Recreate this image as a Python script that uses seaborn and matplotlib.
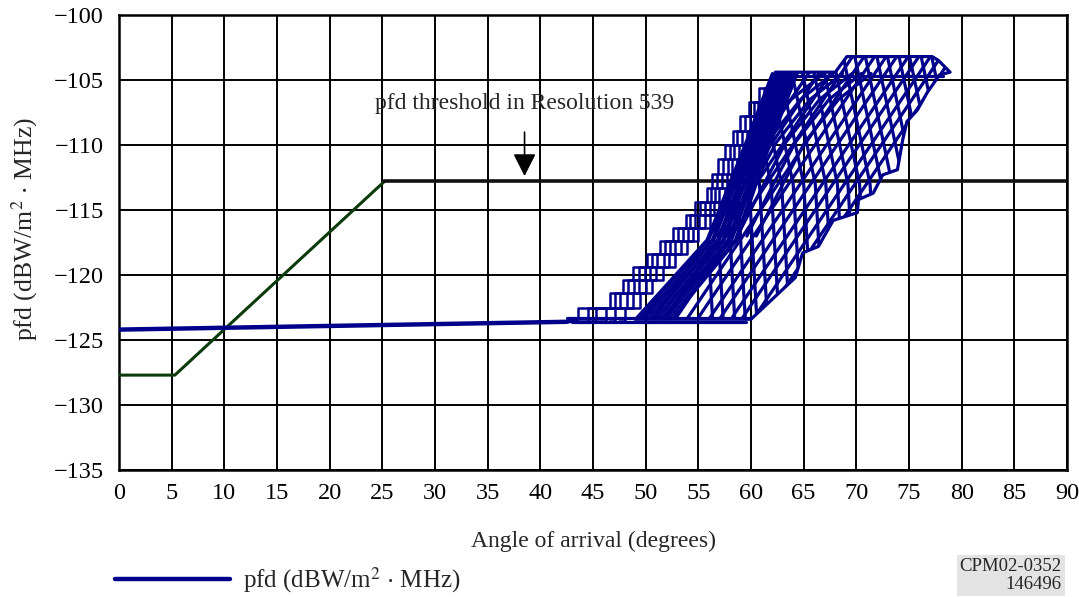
import pandas as pd
import matplotlib
matplotlib.use("Agg")
import matplotlib.pyplot as plt
import seaborn as sns
from matplotlib.patches import Polygon
from matplotlib.lines import Line2D

NAVY = "#00008b"
GREEN = "#0b3a0b"

# --- threshold of Resolution 539 ---
THR_RAMP_X = [0, 5.3, 25.2]
THR_RAMP_Y = [-127.7, -127.7, -112.8]
THR_FLAT_X = [25.2, 90]
THR_FLAT_Y = [-112.8, -112.8]

# --- pfd: low-angle part ---
BASE_X = [0, 42.5, 43.5]
BASE_Y = [-124.2, -123.6, -123.4]

# bottom / top rows of the pfd cloud
BOTTOM_X = [[42.5, 60.0], [43.0, 59.5]]
BOTTOM_Y = [[-123.3, -123.3], [-123.6, -123.6]]
TOP_X = [[62.0, 78.2]]
TOP_Y = [[-104.7, -104.7]]

# outline of the cloud (right-hand staircase + top with bump)
OUT_X = [49.0, 60.0, 64.2, 64.9, 66.4, 67.8, 70.1, 70.2, 71.6, 72.5, 73.9, 74.4,
         74.8, 75.8, 76.7, 77.9, 78.9, 77.8, 77.2, 69.1, 68.0, 62.3, 59.9, 55.8]
OUT_Y = [-123.4, -123.4, -120.2, -118.3, -117.8, -115.8, -115.2, -114.2, -113.7,
         -112.3, -111.9, -109.6, -108.2, -107.3, -106.0, -104.6, -104.4, -103.5,
         -103.2, -103.2, -104.4, -104.4, -108.8, -117.3]

# left staircases: pfd level of each step and the angle where each trace reaches it
STEP_Y = [-123.5, -122.5, -121.4, -120.4, -119.4, -118.4, -117.4, -116.4, -115.4,
          -114.4, -113.3, -112.2, -111.1, -110.0, -108.9, -107.8, -106.7, -105.6,
          -104.5]
STEP_X = [
    [43.0, 43.6, 46.6, 47.8, 48.8, 50.1, 51.4, 52.6, 53.8, 54.7, 55.8, 56.3, 56.9,
     57.5, 58.3, 59.0, 59.8, 60.8, 62.0],
    [43.8, 44.5, 47.1, 48.3, 49.4, 50.6, 51.8, 53.1, 54.2, 55.2, 56.2, 56.8, 57.3,
     58.0, 58.7, 59.4, 60.3, 61.2, 62.4],
    [44.6, 45.3, 47.6, 48.9, 49.9, 51.1, 52.3, 53.5, 54.7, 55.6, 56.6, 57.2, 57.8,
     58.4, 59.1, 59.9, 60.7, 61.6, 62.8],
    [45.5, 46.2, 48.2, 49.4, 50.4, 51.7, 52.8, 54.0, 55.1, 56.1, 57.0, 57.7, 58.2,
     58.9, 59.6, 60.3, 61.1, 62.0, 63.2],
    [46.5, 47.1, 48.8, 50.0, 51.0, 52.2, 53.4, 54.5, 55.6, 56.5, 57.5, 58.1, 58.7,
     59.3, 60.0, 60.7, 61.5, 62.4, 63.5],
    [47.5, 48.0, 49.5, 50.6, 51.6, 52.8, 53.9, 55.0, 56.1, 57.0, 57.9, 58.5, 59.1,
     59.7, 60.4, 61.1, 61.9, 62.8, 63.8],
]

# dense core of the cloud (x at four pfd levels)
BAND_Y = [-123.4, -117.3, -110.0, -104.5]
BAND_X = [[49.0, 55.8, 59.4, 62.0],
          [49.3, 56.0, 59.6, 62.2],
          [49.6, 56.3, 59.8, 62.4],
          [49.9, 56.5, 60.0, 62.6],
          [50.2, 56.8, 60.2, 62.8],
          [50.5, 57.0, 60.4, 63.0],
          [50.8, 57.3, 60.6, 63.2],
          [51.1, 57.5, 60.8, 63.4],
          [51.4, 57.8, 61.0, 63.6],
          [51.6, 58.0, 61.2, 63.8],
          [51.9, 58.2, 61.4, 64.0],
          [52.2, 58.5, 61.6, 64.2],
          [52.5, 58.7, 61.8, 64.4]]

# rising strands of the lattice (x at -124 and at -103)
UP_BOT = [46.0, 47.1, 48.1, 49.2, 50.2, 51.3, 52.3, 53.4, 54.4, 55.5, 56.5, 57.6,
          58.6, 59.7, 60.7, 61.8]
UP_TOP = [63.5, 64.6, 65.6, 66.7, 67.7, 68.8, 69.8, 70.9, 71.9, 73.0, 74.0, 75.1,
          76.1, 77.2, 78.2, 79.3]

# falling strands of the lattice (x at -103, -113, -124)
DN_Y = [-103.0, -113.0, -124.0]
DN_TOP = [53.0, 54.0, 55.1, 56.1, 57.2, 58.2, 59.3, 60.3, 61.4, 62.4, 63.5, 64.5,
          65.6, 66.6, 67.7, 68.7, 69.8, 70.8, 71.9, 72.9, 74.0, 75.0, 76.1, 77.1]
DN_MID = [55.6, 56.6, 57.7, 58.7, 59.8, 60.8, 61.9, 62.9, 64.0, 65.0, 66.1, 67.1,
          68.2, 69.2, 70.3, 71.3, 72.4, 73.4, 74.5, 75.5, 76.6, 77.6, 78.7, 79.7]
DN_BOT = [56.4, 57.4, 58.5, 59.5, 60.6, 61.6, 62.7, 63.7, 64.8, 65.8, 66.9, 67.9,
          69.0, 70.0, 71.1, 72.1, 73.2, 74.2, 75.3, 76.3, 77.4, 78.4, 79.5, 80.5]

# curved strands in the upper-left of the lattice
ARC_Y = [-117.0, -113.2, -109.8, -106.5, -104.5]
ARC_X = [[56.0, 58.4, 60.6, 63.8, 66.9],
         [56.9, 59.3, 61.5, 64.7, 67.8],
         [57.8, 60.2, 62.4, 65.6, 68.7],
         [58.7, 61.1, 63.3, 66.5, 69.6],
         [59.6, 62.0, 64.2, 67.4, 70.5],
         [60.5, 62.9, 65.1, 68.3, 71.4]]

XTICKS = list(range(0, 91, 5))
YTICKS = list(range(-135, -99, 5))


def frame(xs_list, ys_list):
    rows = []
    for i, (xs, ys) in enumerate(zip(xs_list, ys_list)):
        for x, y in zip(xs, ys):
            rows.append({"trace": i, "x": x, "y": y})
    return pd.DataFrame(rows)


def strands(d, lw, **kw):
    sns.lineplot(data=d, x="x", y="y", units="trace", estimator=None, sort=False,
                 color=NAVY, lw=lw, legend=False, ax=ax, zorder=4, **kw)


sns.set_style("white")
plt.rcParams["font.family"] = ["Liberation Serif", "DejaVu Serif"]
plt.rcParams["mathtext.fontset"] = "stix"

fig = plt.figure(figsize=(10.79, 5.97), dpi=100)
ax = fig.add_axes([0.1103, 0.2127, 0.8786, 0.7622])

# threshold
sns.lineplot(x=THR_RAMP_X, y=THR_RAMP_Y, color=GREEN, lw=2.2, sort=False, ax=ax, zorder=3)
sns.lineplot(x=THR_FLAT_X, y=THR_FLAT_Y, color="#111111", lw=2.6, sort=False, ax=ax, zorder=3)

# lattice, clipped to the cloud outline
n0 = len(ax.lines)
strands(frame([[b, t] for b, t in zip(UP_BOT, UP_TOP)], [[-124.0, -103.0]] * len(UP_BOT)), 2.3)
strands(frame([[t, m, b] for t, m, b in zip(DN_TOP, DN_MID, DN_BOT)], [DN_Y] * len(DN_TOP)), 2.3)
strands(frame(ARC_X, [ARC_Y] * len(ARC_X)), 2.3)
clip = Polygon(list(zip(OUT_X, OUT_Y)), closed=True, transform=ax.transData)
for ln in ax.lines[n0:]:
    ln.set_clip_path(clip)

# other strands
strands(frame(BAND_X, [BAND_Y] * len(BAND_X)), 1.9)
strands(frame(STEP_X, [STEP_Y] * len(STEP_X)), 1.8, drawstyle="steps-post")
strands(frame(BOTTOM_X + TOP_X, BOTTOM_Y + TOP_Y), 2.3)
strands(frame([OUT_X[:22]], [OUT_Y[:22]]), 2.3)

sns.lineplot(x=BASE_X, y=BASE_Y, color=NAVY, lw=3.2, sort=False, ax=ax, zorder=4)

ax.set_xlim(0, 90)
ax.set_ylim(-135, -100)
ax.set_xticks(XTICKS)
ax.set_yticks(YTICKS)
ax.grid(True, color="black", lw=1.4)
ax.set_axisbelow(True)
for s in ax.spines.values():
    s.set_color("black")
    s.set_linewidth(1.8)
ax.tick_params(length=0, labelsize=17.5, colors="black")
ax.tick_params(axis="x", pad=9)
ax.tick_params(axis="y", pad=11)

ax.set_xlabel("Angle of arrival (degrees)", fontsize=17)
ax.set_ylabel(r"pfd (dBW/m$^2$ $\cdot$ MHz)", fontsize=18.5)
ax.xaxis.set_label_coords(0.5, -0.133)
ax.yaxis.set_label_coords(-0.083, 0.53)

# threshold annotation
ax.text(38.5, -106.8, "pfd threshold in Resolution 539", ha="center", va="center",
        fontsize=17, zorder=6)
ax.annotate("", xy=(38.5, -112.6), xytext=(38.5, -108.8),
            arrowprops=dict(arrowstyle="-|>,head_length=0.55,head_width=0.28",
                            mutation_scale=25, color="black", lw=1.2),
            zorder=6)

handle = Line2D([], [], color=NAVY, lw=3.2, solid_capstyle="round")
fig.legend([handle], [r"pfd (dBW/m$^2$ $\cdot$ MHz)"], loc="center left",
           bbox_to_anchor=(0.107, 0.028), frameon=False, fontsize=18,
           handlelength=4.6, handletextpad=0.5, borderpad=0, borderaxespad=0)

fig.text(0.984, 0.036, "CPM02-0352\n146496", ha="right", va="center", fontsize=13.5,
         linespacing=1.05, multialignment="right",
         bbox=dict(facecolor="#e3e3e3", edgecolor="none", pad=2))

fig.savefig("out.png", dpi=100)
